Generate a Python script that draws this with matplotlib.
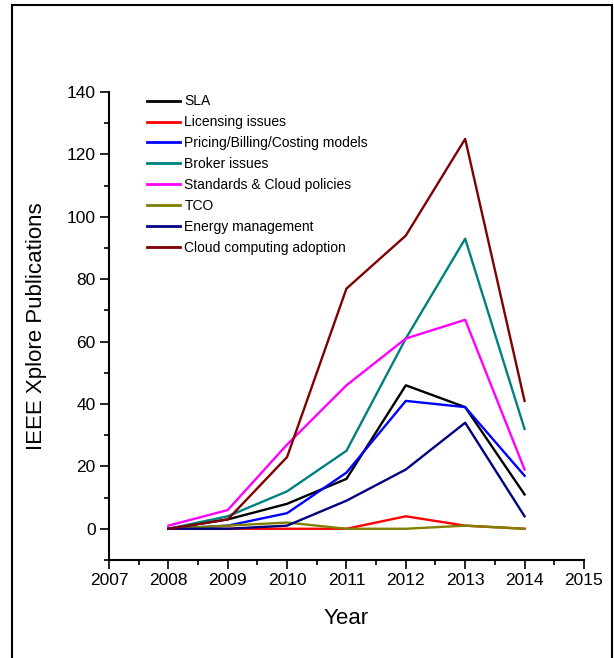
import matplotlib.pyplot as plt
from matplotlib.patches import Rectangle

plt.rcParams['font.family'] = ['Liberation Sans', 'DejaVu Sans']

years = [2008, 2009, 2010, 2011, 2012, 2013, 2014]

topics = [
    "SLA",
    "Licensing issues",
    "Pricing/Billing/Costing models",
    "Broker issues",
    "Standards & Cloud policies",
    "TCO",
    "Energy management",
    "Cloud computing adoption",
]

sla = [0, 3, 8, 16, 46, 39, 11]
licensing = [0, 0, 0, 0, 4, 1, 0]
pricing = [0, 1, 5, 18, 41, 39, 17]
broker = [0, 4, 12, 25, 61, 93, 32]
standards = [1, 6, 27, 46, 61, 67, 19]
tco = [0, 1, 2, 0, 0, 1, 0]
energy = [0, 0, 1, 9, 19, 34, 4]
adoption = [0, 3, 23, 77, 94, 125, 41]

colors = ["#000000", "#ff0000", "#0000ff", "#008080",
          "#ff00ff", "#808000", "#000080", "#800000"]

series = [sla, licensing, pricing, broker, standards, tco, energy, adoption]

fig = plt.figure(figsize=(6.14, 6.58), dpi=100)
ax = fig.add_axes([0.1775, 0.149, 0.7735, 0.711])

for name, vals, c in zip(topics, series, colors):
    ax.plot(years, vals, color=c, lw=1.7, label=name)

ax.set_xlim(2007, 2015)
ax.set_ylim(-10, 140)
ax.set_xticks(range(2007, 2016))
ax.set_xticks([y + 0.5 for y in range(2007, 2015)], minor=True)
ax.set_yticks(range(0, 141, 20))
ax.set_yticks(range(-10, 141, 20), minor=True)

for side in ["top", "right"]:
    ax.spines[side].set_visible(False)
for side in ["left", "bottom"]:
    ax.spines[side].set_linewidth(1.5)

ax.tick_params(which="major", direction="out", length=6.5, width=1.2,
               labelsize=12.5, pad=3)
ax.tick_params(which="minor", direction="out", length=3.6, width=1.2)

ax.set_xlabel("Year", fontsize=16, labelpad=14)
ax.set_ylabel("IEEE Xplore Publications", fontsize=16, labelpad=14)

leg = ax.legend(loc="upper left", bbox_to_anchor=(0.08, 0.995), frameon=False,
                fontsize=10, handlelength=2.4, handletextpad=0.3,
                labelspacing=0.5, borderpad=0, borderaxespad=0)
for line in leg.get_lines():
    line.set_linewidth(2)

# outer frame around the figure
fig.patches.append(Rectangle((0.0195, -0.02), 0.978, 1.0124,
                             transform=fig.transFigure, fill=False,
                             edgecolor="black", lw=1.5))

fig.savefig("out.png", dpi=100)
